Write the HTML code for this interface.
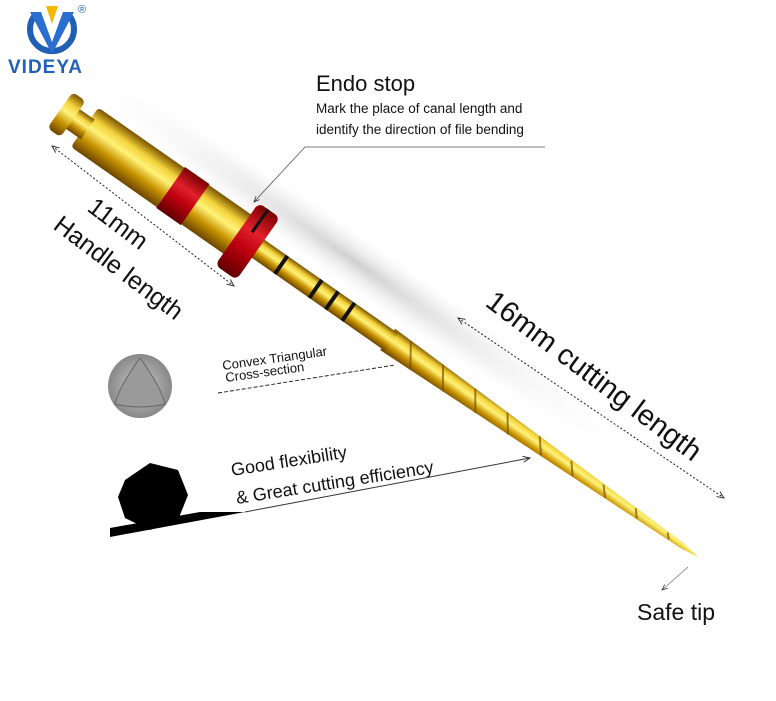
<!DOCTYPE html>
<html><head><meta charset="utf-8"><style>
html,body{margin:0;padding:0;background:#fff;}
body{width:776px;height:696px;overflow:hidden;position:relative;font-family:"Liberation Sans","DejaVu Sans",sans-serif;}
</style></head><body>
<svg width="776" height="696" viewBox="0 0 776 696" xmlns="http://www.w3.org/2000/svg">
<defs>
<linearGradient id="gold" x1="0" y1="0" x2="0" y2="1">
<stop offset="0" stop-color="#7a5200"/><stop offset="0.25" stop-color="#f3d23a"/><stop offset="0.45" stop-color="#fff27a"/><stop offset="0.7" stop-color="#c99400"/><stop offset="1" stop-color="#6b4400"/>
</linearGradient>
<linearGradient id="red" x1="0" y1="0" x2="0" y2="1">
<stop offset="0" stop-color="#7a0000"/><stop offset="0.35" stop-color="#e0202a"/><stop offset="0.6" stop-color="#c00010"/><stop offset="1" stop-color="#600000"/>
</linearGradient>
<radialGradient id="sh" cx="0.5" cy="0.5" r="0.5"><stop offset="0" stop-color="#bbb"/><stop offset="1" stop-color="#fff" stop-opacity="0"/></radialGradient>
<radialGradient id="tri" cx="0.5" cy="0.5" r="0.5"><stop offset="0" stop-color="#ccc"/><stop offset="1" stop-color="#888"/></radialGradient>
<marker id="ar" markerWidth="8" markerHeight="8" refX="7" refY="4" orient="auto"><path d="M0,1 L7,4 L0,7" fill="none" stroke="#333" stroke-width="1"/></marker>
</defs>

<path d="M36,14 A22,22 0 1,0 68,14" fill="none" stroke="#1f5fb5" stroke-width="6"/>
<path d="M30,12 L41,12 L52,42 L63,12 L74,12 L52,54 Z" fill="#2a6fcf"/>
<path d="M46,6 L58,6 L52,24 Z" fill="#f5b800"/>
<text x="78" y="13" font-size="11" fill="#1f5fb5">®</text>
<text x="8" y="73" font-size="19" font-weight="bold" fill="#1f5fb5" letter-spacing="1">VIDEYA</text>

<g transform="translate(60,110) rotate(35)">
<ellipse cx="330" cy="-45" rx="360" ry="30" fill="url(#sh)" opacity="0.7"/>
</g>

<g transform="translate(60,110) rotate(35)">
<path d="M400,-13 L760,-3 L780,0 L760,3 L400,13 Z" fill="url(#gold)"/>
<g stroke="#7a5200" stroke-width="2" opacity="0.7">
<path d="M420,-12 l16,24 M460,-11 l15,22 M500,-10 l14,20 M540,-9 l13,18 M580,-8 l12,15 M620,-6 l10,12 M660,-5 l9,10 M700,-4 l7,8 M740,-2.5 l5,5"/>
</g>
<rect x="230" y="-11" width="175" height="22" fill="url(#gold)"/>
<rect x="268" y="-11" width="4" height="22" fill="#111"/>
<rect x="310" y="-11" width="4" height="22" fill="#111"/>
<rect x="330" y="-11" width="4" height="22" fill="#111"/>
<rect x="350" y="-11" width="4" height="22" fill="#111"/>
<rect x="30" y="-24" width="200" height="48" rx="4" fill="url(#gold)"/>
<rect x="135" y="-25" width="30" height="50" fill="url(#red)"/>
<rect x="14" y="-12" width="20" height="24" fill="url(#gold)"/>
<rect x="0" y="-22" width="16" height="44" rx="5" fill="url(#gold)"/>
<rect x="216" y="-38" width="26" height="76" rx="6" fill="url(#red)"/>
<rect x="226" y="-38" width="3" height="28" fill="#111"/>
</g>

<text x="316" y="91" font-size="22" fill="#111">Endo stop</text>
<text x="316" y="113" font-size="13.5" fill="#111">Mark the place of canal length and</text>
<text x="316" y="134" font-size="13.5" fill="#111">identify the direction of file bending</text>
<polyline points="545,147 305,147 254,202" fill="none" stroke="#555" stroke-width="0.8" marker-end="url(#ar)"/>

<line x1="52" y1="146" x2="234" y2="286" stroke="#222" stroke-width="1" stroke-dasharray="2,2" marker-end="url(#ar)"/>
<line x1="234" y1="286" x2="52" y2="146" stroke="none" marker-end="url(#ar)"/>
<text transform="translate(86,210) rotate(37)" font-size="25" fill="#111">11mm</text>
<text transform="translate(52,228) rotate(37)" font-size="25" fill="#111">Handle length</text>

<line x1="458" y1="318" x2="724" y2="498" stroke="#222" stroke-width="1" stroke-dasharray="2,2" marker-end="url(#ar)"/>
<line x1="724" y1="498" x2="458" y2="318" stroke="none" marker-end="url(#ar)"/>
<text transform="translate(484,305) rotate(37)" font-size="29" fill="#111">16mm cutting length</text>

<circle cx="140" cy="386" r="32" fill="url(#tri)"/>
<path d="M140,358 Q160,385 165,404 Q140,410 115,404 Q120,385 140,358Z" fill="#9a9a9a" stroke="#666" stroke-width="1"/>
<text transform="translate(223,370) rotate(-8)" font-size="13" fill="#111">Convex Triangular</text>
<text transform="translate(226,382) rotate(-8)" font-size="13" fill="#111">Cross-section</text>
<line x1="218" y1="393" x2="395" y2="365" stroke="#222" stroke-width="1" stroke-dasharray="4,2"/>

<polygon points="125,480 150,463 178,470 188,495 178,520 150,530 125,518 118,497" fill="#000"/>
<polygon points="110,528 200,512 245,512 110,537" fill="#000"/>
<text transform="translate(232,476) rotate(-9)" font-size="18" fill="#111">Good flexibility</text>
<text transform="translate(237,504) rotate(-9)" font-size="18" fill="#111">&amp; Great cutting efficiency</text>
<line x1="245" y1="512" x2="530" y2="458" stroke="#333" stroke-width="1" marker-end="url(#ar)"/>

<line x1="688" y1="567" x2="662" y2="590" stroke="#777" stroke-width="0.8" marker-end="url(#ar)"/>
<text x="637" y="620" font-size="23" fill="#111">Safe tip</text>
</svg>
</body></html>
